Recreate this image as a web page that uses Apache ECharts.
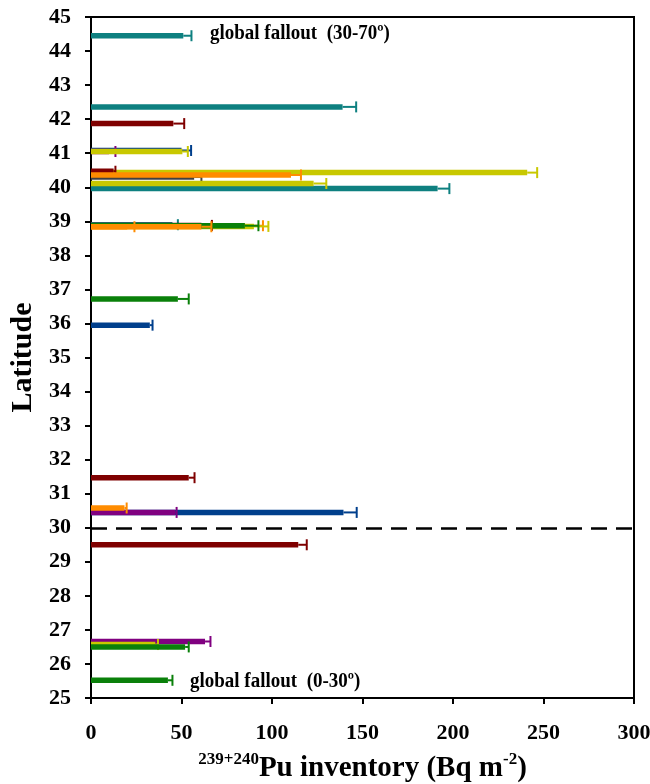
<!DOCTYPE html>
<html><head><meta charset="utf-8">
<script src="https://cdn.jsdelivr.net/npm/echarts@6/dist/echarts.min.js"></script>
<style>html,body{margin:0;padding:0;background:#fff}#c{width:650px;height:784px}</style>
</head><body><div id="c"></div>
<script>
// axis settings
const xRange = [0, 300];
const xStep = 50;
const yRange = [25, 45];
const yStep = 1;
// each entry: [latitude, 239+240Pu inventory, error]
const orangeBackData = [[38.87, 85, 10]];
const darkGrayData = [[40.3, 57, 4]];
const tealData = [[44.45, 51, 4.5], [42.36, 139, 7.5], [39.96, 191.5, 6.5], [38.9, 45, 3]];
const darkBlueData = [[41.08, 50, 5.3], [35.95, 32.5, 1.5], [30.45, 139.5, 7.3]];
const purpleData = [[41.05, 10, 3.5], [30.45, 46.5, 0.8], [26.66, 63, 3]];
const yellowData = [[41.05, 50.5, 3], [40.43, 241, 5.5], [40.11, 123, 7], [38.85, 90, 8], [26.57, 35.5, 1.5]];
const darkRedData = [[41.87, 45.5, 6], [40.47, 12.5, 1], [38.88, 61, 5.8], [31.47, 54, 3.2], [29.5, 114.5, 4.7]];
const greenData = [[38.87, 85, 7.5], [36.72, 48, 6], [26.5, 52, 2], [25.52, 42.5, 2.5]];
const orangeData = [[40.36, 110.5, 5.5], [38.84, 61, 5.5], [38.84, 20, 4], [30.58, 18.5, 1.2]];
const dividerLat = 30;
const noteTop = 'global fallout  (30-70º)';
const noteBottom = 'global fallout  (0-30º)';

const FONT = "'Liberation Serif','Times New Roman',serif";

function makeSeries(name, data, color) {
  return {
    type: 'custom', name: name, data: data,
    dimensions: ['lat', 'val', 'err'],
    encode: { y: 0, x: [1, 2] },
    renderItem: function (params, api) {
      const lat = api.value(0), v = api.value(1), e = api.value(2);
      const p0 = api.coord([0, lat]);
      const p1 = api.coord([v, lat]);
      const p2 = api.coord([v + e, lat]);
      return {
        type: 'group', children: [
          { type: 'line', shape: { x1: p0[0], y1: p0[1], x2: p1[0], y2: p1[1] }, style: { stroke: color, lineWidth: 5.5 } },
          { type: 'line', shape: { x1: p1[0], y1: p1[1], x2: p2[0], y2: p2[1] }, style: { stroke: color, lineWidth: 2 } },
          { type: 'line', shape: { x1: p2[0], y1: p2[1] - 5.5, x2: p2[0], y2: p2[1] + 5.5 }, style: { stroke: color, lineWidth: 2 } }
        ]
      };
    }
  };
}

const series = [
  makeSeries('orangeBack', orangeBackData, '#FF8C00'),
  makeSeries('darkGray', darkGrayData, '#404040'),
  makeSeries('teal', tealData, '#0E8080'),
  makeSeries('darkBlue', darkBlueData, '#003F8C'),
  makeSeries('purple', purpleData, '#800080'),
  makeSeries('yellow', yellowData, '#C8C800'),
  makeSeries('darkRed', darkRedData, '#7F0000'),
  makeSeries('green', greenData, '#0A800A'),
  makeSeries('orange', orangeData, '#FF8C00')
];
series.push({
  type: 'line', data: [], silent: true,
  markLine: {
    symbol: 'none', silent: true, label: { show: false },
    lineStyle: { color: '#000', width: 2.5, type: [16, 9] },
    data: [{ yAxis: dividerLat }]
  }
});

const chart = echarts.init(document.getElementById('c'));
chart.setOption({
  animation: false,
  backgroundColor: '#fff',
  grid: { left: 91, right: 16, top: 17, bottom: 86, show: true, borderColor: '#000', borderWidth: 2, containLabel: false, outerBoundsMode: 'none' },
  xAxis: {
    type: 'value', min: xRange[0], max: xRange[1], interval: xStep,
    axisLine: { show: true, lineStyle: { color: '#000', width: 2 } },
    axisTick: { show: true, inside: false, length: 6, lineStyle: { color: '#000', width: 2 } },
    splitLine: { show: false },
    axisLabel: { color: '#000', fontFamily: FONT, fontWeight: 'bold', fontSize: 22, margin: 24 },
    name: '{sup|239+240}{b|Pu inventory (Bq m}{sup|-2}{b|)}',
    nameLocation: 'middle', nameGap: 53,
    nameTextStyle: {
      color: '#000', fontFamily: FONT, fontWeight: 'bold', fontSize: 29,
      rich: {
        b: { fontFamily: FONT, fontWeight: 'bold', fontSize: 29, color: '#000', lineHeight: 32, verticalAlign: 'bottom' },
        sup: { fontFamily: FONT, fontWeight: 'bold', fontSize: 17, color: '#000', lineHeight: 32, verticalAlign: 'top' }
      }
    }
  },
  yAxis: {
    type: 'value', min: yRange[0], max: yRange[1], interval: yStep,
    axisLine: { show: true, lineStyle: { color: '#000', width: 2 } },
    axisTick: { show: true, inside: false, length: 6, lineStyle: { color: '#000', width: 2 } },
    splitLine: { show: false },
    axisLabel: { color: '#000', fontFamily: FONT, fontWeight: 'bold', fontSize: 22, margin: 20 },
    name: 'Latitude', nameLocation: 'middle', nameGap: 47, nameRotate: 90,
    nameTextStyle: { color: '#000', fontFamily: FONT, fontWeight: 'bold', fontSize: 30 }
  },
  graphic: [
    { type: 'text', left: 210, top: 22, scaleY: 1.15, style: { text: noteTop, font: "bold 19px " + FONT, fill: '#000' } },
    { type: 'text', left: 190, top: 670, scaleY: 1.15, style: { text: noteBottom, font: "bold 19px " + FONT, fill: '#000' } }
  ],
  series: series
});
</script></body></html>
